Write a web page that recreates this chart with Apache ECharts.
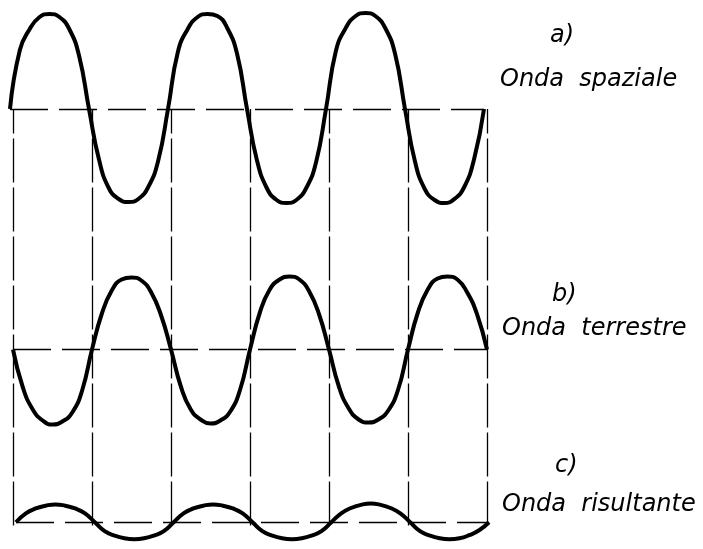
<!DOCTYPE html>
<html>
<head>
<meta charset="utf-8">
<script src="https://cdn.jsdelivr.net/npm/echarts@6/dist/echarts.min.js"></script>
<style>
html,body{margin:0;padding:0;background:#fff;}
#chart{width:703px;height:549px;}
</style>
</head>
<body>
<div id="chart"></div>
<script>
// x positions in quarter-periods (0 .. 12), read every 1/4 of a quarter period
var phase = [];
for (var k = 0; k <= 48; k++) phase.push(k / 4);
// a) Onda spaziale (px above its baseline)
var waveA = [
  0, 59, 80, 92, 95, 92, 80, 53,
  0, -50, -79, -90, -93, -90, -78, -52,
  0, 57, 80, 92, 95, 93, 81, 55,
  0, -51, -79, -91, -94, -91, -79, -53,
  0, 58, 81, 93, 96, 93, 81, 55,
  0, -52, -80, -91, -94, -90, -78, -50,
  0
];
// b) Onda terrestre
var waveB = [
  0, -38, -60, -71, -75, -72, -63, -41,
  0, 36, 59, 70, 72, 69, 57, 34,
  0, -37, -60, -70, -74, -71, -62, -40,
  0, 37, 60, 70, 73, 70, 58, 35,
  0, -37, -59, -70, -73, -70, -61, -40,
  0, 37, 60, 71, 73, 70, 57, 35,
  0
];
// c) Onda risultante
var waveC = [
  0, 10, 15.5, 18.5, 20, 18.5, 15.5, 10,
  0, -10, -15, -18, -19, -18, -15, -10,
  0, 10, 15.5, 18.5, 20, 18.5, 15.5, 10,
  0, -10, -15, -18, -19, -18, -15, -10,
  0, 10, 16, 19.5, 21, 19.5, 16, 10,
  0, -10, -15, -18, -19, -18, -14.5, -9,
  0
];
// zero crossings (vertical dashed guides)
var crossings = [0, 2, 4, 6, 8, 10, 12];
var labels = ['a)', 'Onda  spaziale', 'b)', 'Onda  terrestre', 'c)', 'Onda  risultante'];

function pairs(ys){ return ys.map(function(v,i){ return [phase[i], v]; }); }

var dashH = [38, 11];
var dashV = [44, 5];
function baseLine(){
  return {
    silent: true, symbol: 'none', label: {show: false},
    lineStyle: {color: '#000', width: 1.3, type: dashH},
    data: [{yAxis: 0}]
  };
}
function waveSeries(ys, idx){
  return {
    type: 'line', xAxisIndex: idx, yAxisIndex: idx,
    data: pairs(ys), smooth: 0.5, showSymbol: false, symbol: 'none',
    lineStyle: {color: '#000', width: 4}, clip: false,
    markLine: baseLine(), z: 3
  };
}
var hiddenX = function(i){ return {type:'value', gridIndex:i, min:0, max:12, show:false}; };
var hiddenY = function(i, a, b){ return {type:'value', gridIndex:i, min:a, max:b, show:false}; };

var chart = echarts.init(document.getElementById('chart'));
var font = 'italic 24px "DejaVu Sans"';
var txt = function(t, x, y){ return {type:'text', x:x, y:y, style:{text:t, font:font, fill:'#000', textVerticalAlign:'middle', verticalAlign:'middle'}}; };
chart.setOption({
  animation: false,
  backgroundColor: '#fff',
  grid: [
    {left: 10, width: 474, top: 9, height: 200},
    {left: 13, width: 474, top: 249.5, height: 200},
    {left: 16, width: 473, top: 495.5, height: 60},
    {left: 13, width: 474, top: 109, height: 416.5}
  ],
  xAxis: [hiddenX(0), hiddenX(1), hiddenX(2), hiddenX(3)],
  yAxis: [hiddenY(0,-100,100), hiddenY(1,-100,100), hiddenY(2,-30,30), hiddenY(3,0,1)],
  series: [
    waveSeries(waveA, 0),
    waveSeries(waveB, 1),
    waveSeries(waveC, 2),
    {
      type: 'line', xAxisIndex: 3, yAxisIndex: 3, data: [], z: 1,
      markLine: {
        silent: true, symbol: 'none', label: {show: false},
        lineStyle: {color: '#000', width: 1.3, type: dashV},
        data: crossings.map(function(c){ return {xAxis: c}; })
      }
    }
  ],
  graphic: [
    txt(labels[0], 550, 36),
    txt(labels[1], 500, 80),
    txt(labels[2], 552, 295),
    txt(labels[3], 502, 329),
    txt(labels[4], 555, 466),
    txt(labels[5], 502, 505)
  ]
});
</script>
</body>
</html>
